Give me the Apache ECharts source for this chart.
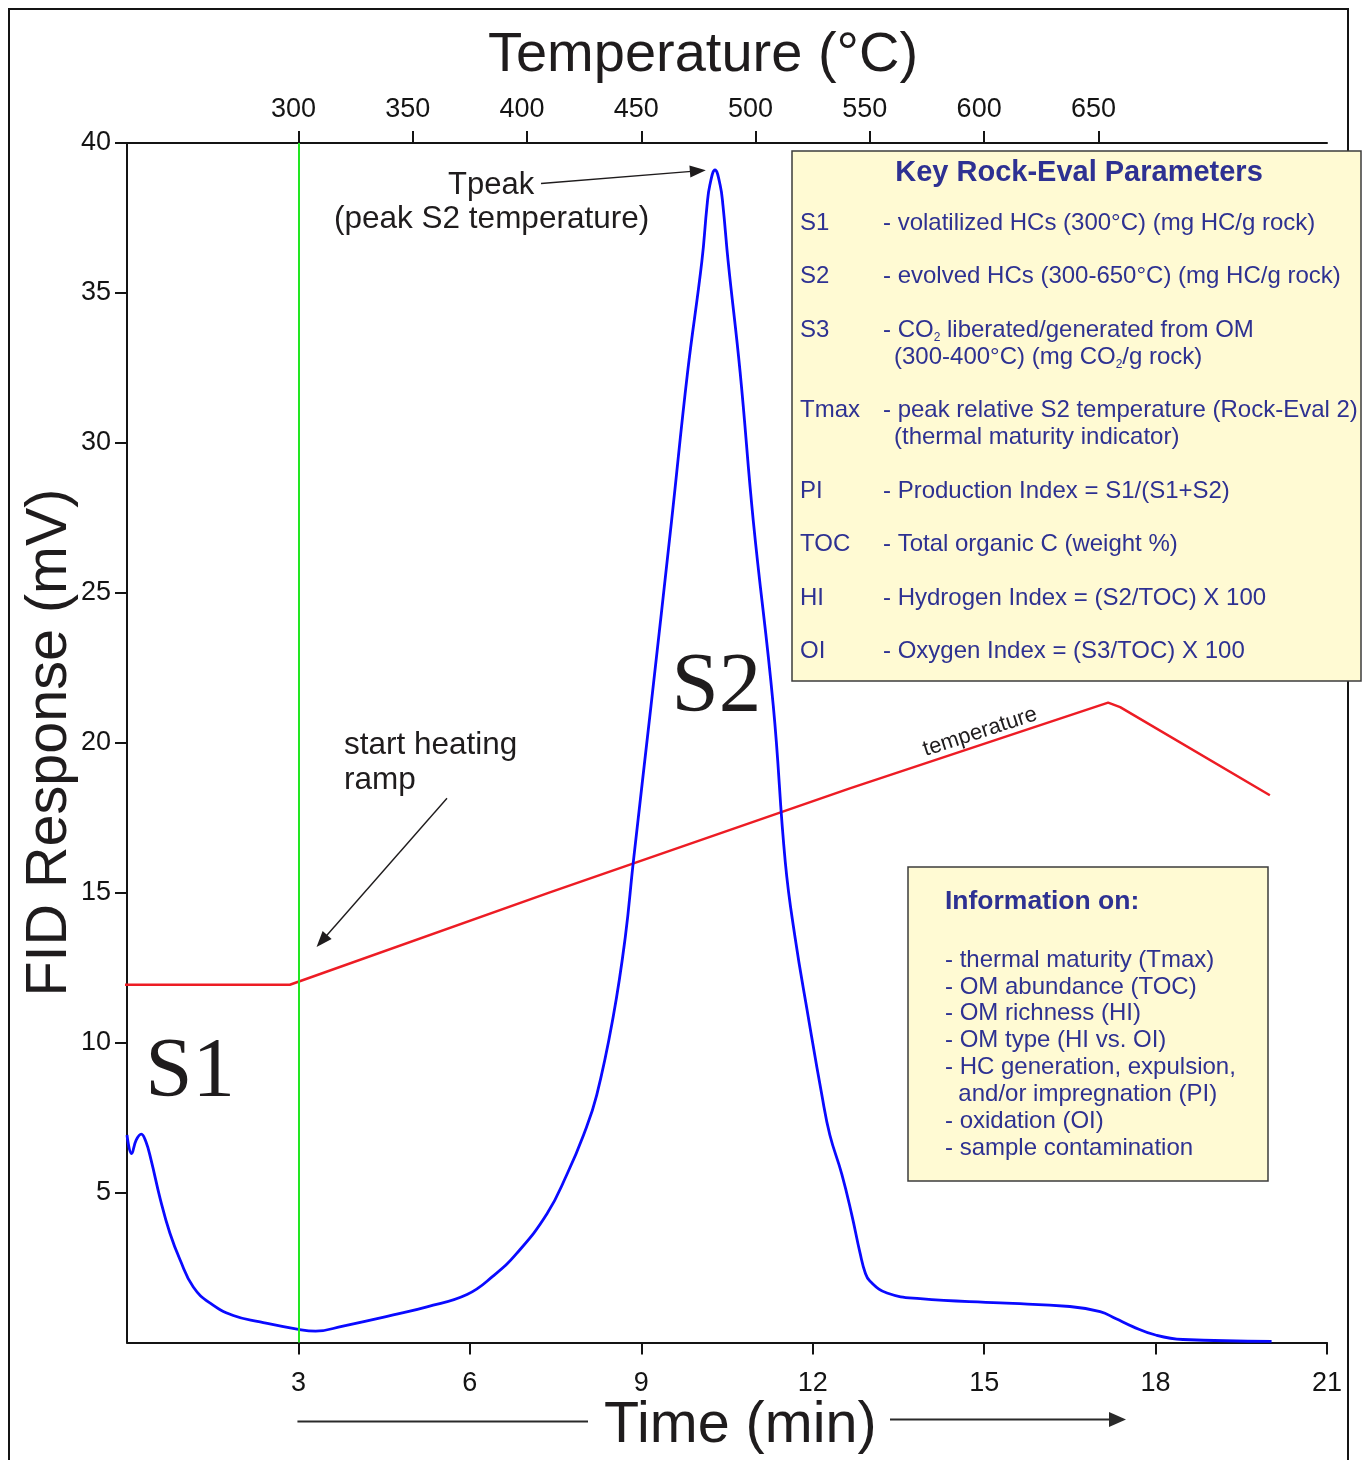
<!DOCTYPE html>
<html>
<head>
<meta charset="utf-8">
<script src="https://cdn.jsdelivr.net/npm/echarts@6/dist/echarts.min.js"></script>
<style>
  html, body { margin: 0; padding: 0; background: #fff; }
  #chart { width: 1366px; height: 1460px; }
</style>
</head>
<body>
<div id="chart"></div>
<script>
// Rock-Eval pyrogram: FID response (mV) against run time (min)
const fidTime = [0, 0.08, 0.16, 0.25, 0.33, 0.42, 0.58, 0.75, 0.93, 1.16, 1.45, 1.86, 2.33, 3.0, 3.3, 3.78,
  4.66, 5.25, 5.95, 6.41, 6.82, 7.35, 7.70, 7.99, 8.22, 8.51, 8.72, 8.86, 9.17, 9.53, 9.81, 10.06, 10.15,
  10.2, 10.29, 10.38, 10.43, 10.52, 10.73, 10.96, 11.31, 11.52, 11.69, 11.92, 12.16, 12.30, 12.51, 12.68,
  12.83, 12.92, 13.0, 13.3, 13.88, 15.28, 16.5, 17.03, 17.3, 17.6, 18.0, 18.48, 20.03];
const fidResponse = [6.92, 6.3, 6.75, 6.95, 6.7, 6.1, 4.8, 3.65, 2.75, 1.85, 1.32, 0.9, 0.69, 0.44, 0.38, 0.55,
  0.92, 1.19, 1.6, 2.22, 2.97, 4.29, 5.61, 6.92, 8.25, 10.88, 13.52, 16.02, 21.23, 27.4, 32.35, 36.05, 37.9,
  38.6, 39.1, 38.6, 37.9, 36.05, 32.35, 27.4, 21.23, 16.02, 13.52, 10.88, 8.25, 6.92, 5.61, 4.29,
  2.97, 2.32, 2.05, 1.65, 1.46, 1.32, 1.2, 1.03, 0.8, 0.53, 0.25, 0.1, 0.04];

// Oven temperature programme, traced in the same frame
const tempTime = [-0.35, 2.85, 7.40, 12.65, 17.17, 17.38, 20.0];
const tempTrace = [11.93, 11.93, 15.01, 18.48, 21.34, 21.19, 18.25];

// Heating ramp starts here
const rampStart = 3;

// Axis ticks
const timeTicks = [3, 6, 9, 12, 15, 18, 21];
const responseTicks = [5, 10, 15, 20, 25, 30, 35, 40];
const temperatureTicks = [300, 350, 400, 450, 500, 550, 600, 650];

// Parameter key and interpretation notes
const keyTitle = 'Key Rock-Eval Parameters';
const keyLabels = ['S1', 'S2', 'S3', 'Tmax', 'PI', 'TOC', 'HI', 'OI'];
const keyTexts = [
  ['- volatilized HCs (300°C) (mg HC/g rock)'],
  ['- evolved HCs (300-650°C) (mg HC/g rock)'],
  ['- CO{sub|2} liberated/generated from OM', '(300-400°C) (mg CO{sub|2}/g rock)'],
  ['- peak relative S2 temperature (Rock-Eval 2)', '(thermal maturity indicator)'],
  ['- Production Index = S1/(S1+S2)'],
  ['- Total organic C (weight %)'],
  ['- Hydrogen Index = (S2/TOC) X 100'],
  ['- Oxygen Index = (S3/TOC) X 100']
];
const infoTitle = 'Information on:';
const infoLines = [
  '- thermal maturity (Tmax)',
  '- OM abundance (TOC)',
  '- OM richness (HI)',
  '- OM type (HI vs. OI)',
  '- HC generation, expulsion,',
  '  and/or impregnation (PI)',
  '- oxidation (OI)',
  '- sample contamination'
];

const SANS = '"Liberation Sans", Arial, Helvetica, sans-serif';
const SERIF = '"Liberation Serif", "Times New Roman", serif';
const INK = '#1f1c1d';
const NAVY = '#2e3192';
const AXIS = '#141414';

const chart = echarts.init(document.getElementById('chart'), null, { renderer: 'canvas' });

const axisCommon = {
  type: 'value',
  axisLine: { show: true, onZero: false, lineStyle: { color: AXIS, width: 2 } },
  axisTick: { show: true, inside: false, length: 12, lineStyle: { color: AXIS, width: 2 } },
  splitLine: { show: false }
};
const labelCommon = { fontSize: 27, fontFamily: SANS, color: AXIS };

const option = {
  animation: false,
  backgroundColor: '#ffffff',
  grid: { left: 127, right: 39, top: 143, bottom: 117.5, containLabel: false },
  xAxis: [
    Object.assign({}, axisCommon, {
      min: 0, max: 21, position: 'bottom',
      axisTick: Object.assign({}, axisCommon.axisTick, { customValues: timeTicks }),
      axisLabel: Object.assign({}, labelCommon, { customValues: timeTicks, margin: 28 })
    }),
    // temperature scale: 25 °C per minute, 300 °C at minute 3
    Object.assign({}, axisCommon, {
      min: 225, max: 750, position: 'top',
      axisTick: Object.assign({}, axisCommon.axisTick, { customValues: temperatureTicks }),
      axisLabel: Object.assign({}, labelCommon, { customValues: temperatureTicks, margin: 20, padding: [0, 10, 0, 0] })
    })
  ],
  yAxis: [
    Object.assign({}, axisCommon, {
      min: 0, max: 40, position: 'left',
      axisTick: Object.assign({}, axisCommon.axisTick, { customValues: responseTicks }),
      axisLabel: Object.assign({}, labelCommon, { customValues: responseTicks, margin: 16 })
    })
  ],
  series: [
    {
      name: 'FID',
      type: 'line',
      xAxisIndex: 0, yAxisIndex: 0,
      data: fidTime.map((t, i) => [t, fidResponse[i]]),
      showSymbol: false, symbol: 'none',
      smooth: 0.45,
      lineStyle: { color: '#0a0aff', width: 2.8 },
      z: 3,
      markLine: {
        silent: true, symbol: 'none', animation: false,
        label: { show: false },
        lineStyle: { color: '#22e622', width: 2, type: 'solid' },
        data: [{ xAxis: rampStart }]
      }
    },
    {
      name: 'temperature',
      type: 'line',
      xAxisIndex: 0, yAxisIndex: 0,
      data: tempTime.map((t, i) => [t, tempTrace[i]]),
      showSymbol: false, symbol: 'none',
      clip: false,
      lineStyle: { color: '#ed1c24', width: 2.5 },
      z: 2
    },
    {
      // pointer arrows for the annotations
      name: 'pointers',
      type: 'line',
      xAxisIndex: 0, yAxisIndex: 0,
      data: [],
      markLine: {
        silent: true, animation: false,
        symbol: ['none', 'triangle'],
        symbolSize: [12, 16],
        label: { show: false },
        lineStyle: { color: INK, width: 1.4, type: 'solid' },
        data: [
          [{ coord: [7.245, 38.65] }, { coord: [9.99, 39.07] }],
          [{ coord: [5.60, 18.15] }, { coord: [3.41, 13.39] }]
        ]
      }
    }
  ]
};
chart.setOption(option);

const px = (t, v) => chart.convertToPixel({ xAxisIndex: 0, yAxisIndex: 0 }, [t, v]);

function text(x, y, str, o) {
  o = o || {};
  const align = o.align || 'left';
  const va = o.va || 'middle';
  const style = {
    text: str,
    fill: o.fill || INK,
    fontSize: o.size || 24,
    fontFamily: o.family || SANS,
    fontWeight: o.weight || 'normal',
    align: align, textAlign: align,
    verticalAlign: va, textVerticalAlign: va
  };
  if (o.rich) style.rich = o.rich;
  if (o.lineHeight) style.lineHeight = o.lineHeight;
  return { type: 'text', x: x, y: y, rotation: o.rotation || 0, silent: true, z: o.z || 110, style: style };
}

const graphics = [];

// frame
graphics.push({ type: 'rect', silent: true, z: 90,
  shape: { x: 9, y: 9, width: 1339, height: 1490 },
  style: { fill: 'none', stroke: AXIS, lineWidth: 2 } });

// axis titles
graphics.push(text(703, 56, 'Temperature (°C)', { size: 56, align: 'center' }));
graphics.push(text(50, 742.5, 'FID Response (mV)', { size: 57.5, align: 'center', rotation: Math.PI / 2 }));
graphics.push(text(604, 1426, 'Time (min)', { size: 57.5 }));
const tStart = px(rampStart, 0)[0] - 1;
graphics.push({ type: 'line', silent: true, z: 100,
  shape: { x1: tStart, y1: 1421.5, x2: 588, y2: 1421.5 },
  style: { stroke: '#2a2a2a', lineWidth: 2.2 } });
graphics.push({ type: 'line', silent: true, z: 100,
  shape: { x1: 890, y1: 1419.5, x2: 1112, y2: 1419.5 },
  style: { stroke: '#2a2a2a', lineWidth: 2.2 } });
graphics.push({ type: 'polygon', silent: true, z: 100,
  shape: { points: [[1109, 1412], [1126, 1419.5], [1109, 1427]] },
  style: { fill: '#2a2a2a' } });

// annotations anchored in data units
let p = px(5.618, 38.58);
graphics.push(text(p[0], p[1], 'Tpeak', { size: 31 }));
p = px(3.623, 37.45);
graphics.push(text(p[0], p[1], '(peak S2 temperature)', { size: 31.5 }));
p = px(3.798, 19.92);
graphics.push(text(p[0], p[1], 'start heating', { size: 31.5 }));
p = px(3.798, 18.75);
graphics.push(text(p[0], p[1], 'ramp', { size: 31.5 }));
p = px(0.32, 8.95);
graphics.push(text(p[0], p[1], 'S1', { size: 85, family: SERIF }));
p = px(9.53, 21.82);
graphics.push(text(p[0], p[1], 'S2', { size: 85, family: SERIF }));
p = px(14.93, 20.36);
graphics.push(text(p[0], p[1], 'temperature', { size: 22, align: 'center', rotation: 18 * Math.PI / 180 }));

// parameter key
const subRich = { sub: { fontSize: 12, lineHeight: 12, verticalAlign: 'bottom', fill: NAVY, fontFamily: SANS } };
graphics.push({ type: 'rect', silent: true, z: 105,
  shape: { x: 792, y: 151, width: 569, height: 530 },
  style: { fill: '#fffad3', stroke: '#3c3c3c', lineWidth: 1.5 } });
graphics.push(text(1079, 173, keyTitle, { size: 29, weight: 'bold', align: 'center', fill: NAVY }));
let rowY = 223;
keyLabels.forEach((lab, i) => {
  graphics.push(text(800, rowY, lab, { size: 24, fill: NAVY }));
  keyTexts[i].forEach((ln, j) => {
    graphics.push(text(j === 0 ? 883 : 894, rowY + j * 27, ln,
      { size: 24, fill: NAVY, rich: subRich, lineHeight: 27 }));
  });
  rowY += 53.5 + 27 * (keyTexts[i].length - 1);
});

// interpretation notes
graphics.push({ type: 'rect', silent: true, z: 105,
  shape: { x: 908, y: 867, width: 360, height: 314 },
  style: { fill: '#fffad3', stroke: '#3c3c3c', lineWidth: 1.5 } });
graphics.push(text(945, 902, infoTitle, { size: 26.5, weight: 'bold', fill: NAVY }));
infoLines.forEach((ln, i) => {
  graphics.push(text(945, 960 + i * 26.9, ln, { size: 24, fill: NAVY }));
});

chart.setOption({ graphic: graphics });
</script>
</body>
</html>
